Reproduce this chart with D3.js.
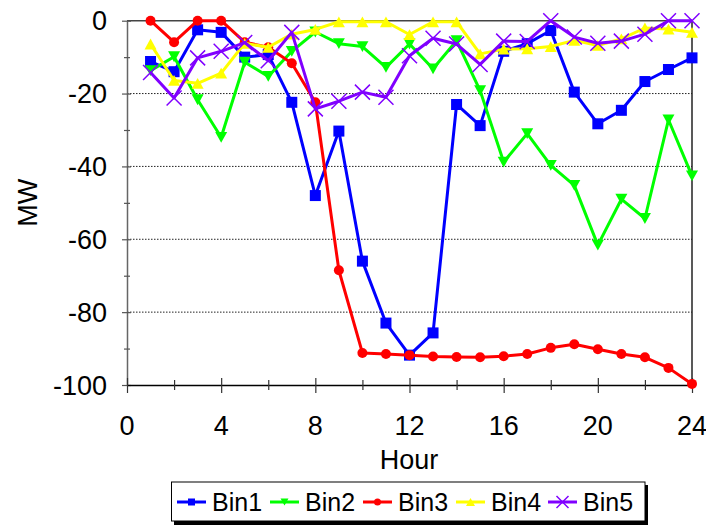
<!DOCTYPE html>
<html>
<head>
<meta charset="utf-8">
<script src="https://cdn.jsdelivr.net/npm/d3@7"></script>
<style>
  html, body { margin: 0; padding: 0; background: #fff; }
  svg { display: block; font-family: "Liberation Sans", Arial, sans-serif; }
</style>
</head>
<body>
<svg id="chart" width="706" height="527"></svg>
<script>
const hours = [1,2,3,4,5,6,7,8,9,10,11,12,13,14,15,16,17,18,19,20,21,22,23,24];
const bin1 = [-11.2,-14,-2.5,-3.2,-10,-9.3,-22.4,-48,-30.3,-66,-83,-91.8,-85.7,-23,-28.8,-8.4,-6.3,-2.7,-19.6,-28.3,-24.6,-16.7,-13.4,-10.2];
const bin2 = [-13.7,-9.9,-21.7,-32,-11.4,-15.3,-8.4,-3.1,-6.3,-7.1,-12.8,-6.4,-13.2,-5.5,-19.2,-38.8,-31,-39.7,-45.2,-61.6,-49,-54.3,-27.2,-42.6];
const bin3 = [0,-5.9,0,0,-5.9,-7.3,-11.7,-22.4,-68.5,-91.2,-91.5,-91.8,-92.2,-92.3,-92.4,-92.1,-91.5,-89.8,-88.8,-90.2,-91.5,-92.4,-95.3,-99.7];
const bin4 = [-6.4,-16.4,-17.2,-14.4,-6.2,-7.3,-3.7,-2.4,-0.3,-0.3,-0.3,-3.8,-0.3,-0.3,-9.1,-7.8,-7.7,-7.1,-5.4,-6.8,-5,-2,-2.3,-3.2];
const bin5 = [-14.2,-21.2,-10.2,-8.4,-6,-11,-3.2,-24.2,-22.1,-19.6,-21,-9.6,-4.8,-6.4,-12,-5.6,-5.7,0,-4.5,-6.2,-5.6,-3.7,0,0];
const seriesNames = ["Bin1","Bin2","Bin3","Bin4","Bin5"];
const xTicks = [0,4,8,12,16,20,24];
const yTicks = [0,-20,-40,-60,-80,-100];

const seriesData = [bin1,bin2,bin3,bin4,bin5];
const colors = ["#0000ff","#00ff00","#ff0000","#ffff00","#8000ff"];
const markers = ["square","triDown","circle","triUp","cross"];

const svg = d3.select("#chart");
const L = 127, R = 692, T = 20.7, B = 385;
const x = d3.scaleLinear().domain([0,24]).range([L,R]);
const y = d3.scaleLinear().domain([-100,0]).range([B,T]);

// gridlines
svg.append("g").selectAll("line").data([-20,-40,-60,-80]).join("line")
  .attr("x1", L).attr("x2", R).attr("y1", d=>y(d)).attr("y2", d=>y(d))
  .attr("stroke", "#222").attr("stroke-width", 1).attr("stroke-dasharray", "1.5,1.5");

// frame: top and right
svg.append("line").attr("x1", L).attr("x2", R).attr("y1", T).attr("y2", T).attr("stroke", "#444").attr("stroke-width", 1.5);
svg.append("line").attr("x1", R).attr("x2", R).attr("y1", T).attr("y2", B).attr("stroke", "#222").attr("stroke-width", 1.5);

// y axis
const yAxis = d3.axisLeft(y).tickValues(d3.range(-100, 1, 10)).tickSize(0).tickFormat("");
const gy = svg.append("g").attr("transform", `translate(${L},0)`).call(yAxis);
gy.select(".domain").attr("stroke", "#666").attr("stroke-width", 1.5);
gy.selectAll(".tick").append("line")
  .attr("x1", d => d % 20 === 0 ? -5 : -3).attr("x2", d => d % 20 === 0 ? 4 : 3)
  .attr("stroke", "#555").attr("stroke-width", 1.2);
svg.append("g").selectAll("text").data(yTicks).join("text")
  .attr("x", 107).attr("y", d => y(d)).attr("dy", "0.36em")
  .attr("text-anchor", "end").attr("font-size", 27).attr("fill", "#000")
  .text(d => d3.format("d")(d).replace("−","-"));

// x axis
const xAxis = d3.axisBottom(x).tickValues(d3.range(0, 25, 2)).tickSize(0).tickFormat("");
const gx = svg.append("g").attr("transform", `translate(0,${B})`).call(xAxis);
gx.select(".domain").attr("stroke", "#000").attr("stroke-width", 1.5);
gx.selectAll(".tick").append("line")
  .attr("y1", d => d % 4 === 0 ? -7 : -5).attr("y2", d => d % 4 === 0 ? 8 : 5)
  .attr("stroke", "#333").attr("stroke-width", 1.2);
svg.append("g").selectAll("text").data(xTicks).join("text")
  .attr("x", d => x(d)).attr("y", 435)
  .attr("text-anchor", "middle").attr("font-size", 27).attr("fill", "#000")
  .text(d => d);

// axis titles
svg.append("text").attr("x", 409).attr("y", 469).attr("text-anchor", "middle")
  .attr("font-size", 27).text("Hour");
svg.append("text").attr("transform", `translate(37,${(T+B)/2}) rotate(-90)`)
  .attr("text-anchor", "middle").attr("font-size", 27).text("MW");

// marker drawer
function drawMarker(g, type, color, size) {
  const s = size;
  if (type === "square") {
    g.append("rect").attr("x", -s/2).attr("y", -s/2).attr("width", s).attr("height", s).attr("fill", color);
  } else if (type === "circle") {
    g.append("circle").attr("r", s/2).attr("fill", color);
  } else if (type === "triDown") {
    const h = s*0.9;
    g.append("path").attr("d", `M${-s/2},${-h/2}L${s/2},${-h/2}L0,${h/2}Z`).attr("fill", color);
  } else if (type === "triUp") {
    const h = s*0.9;
    g.append("path").attr("d", `M${-s/2},${h/2}L${s/2},${h/2}L0,${-h/2}Z`).attr("fill", color);
  } else if (type === "cross") {
    const a = s/2;
    g.append("path").attr("d", `M${-a},${-a}L${a},${a}M${-a},${a}L${a},${-a}`)
      .attr("stroke", color).attr("stroke-width", 1.5).attr("fill", "none");
  }
}
const markerSizes = [11, 12, 10, 12, 15];

const line = d3.line().x((d,i) => x(hours[i])).y(d => y(d));
seriesData.forEach((vals, si) => {
  const g = svg.append("g");
  g.append("path").datum(vals).attr("d", line)
    .attr("fill", "none").attr("stroke", colors[si]).attr("stroke-width", 3)
    .attr("stroke-linejoin", "round");
  vals.forEach((v, i) => {
    const m = g.append("g").attr("transform", `translate(${x(hours[i])},${y(v)})`);
    drawMarker(m, markers[si], colors[si], markerSizes[si]);
  });
});

// legend
const lg = svg.append("g");
lg.append("rect").attr("x", 174).attr("y", 485).attr("width", 474).attr("height", 40).attr("fill", "#000");
lg.append("rect").attr("x", 171.5).attr("y", 482).attr("width", 473.5).attr("height", 39)
  .attr("fill", "#fff").attr("stroke", "#000").attr("stroke-width", 1);
const legX = [177, 270, 363, 456, 548];
seriesNames.forEach((name, i) => {
  const gi = lg.append("g").attr("transform", `translate(${legX[i]},502)`);
  gi.append("line").attr("x1", 0).attr("x2", 29).attr("y1", 0).attr("y2", 0)
    .attr("stroke", colors[i]).attr("stroke-width", 3);
  const m = gi.append("g").attr("transform", "translate(14.5,0)");
  drawMarker(m, markers[i], colors[i], [7,8,7,9,12][i]);
  gi.append("text").attr("x", 35).attr("y", 0).attr("dy", "0.36em")
    .attr("font-size", 25).attr("fill", "#000").text(name);
});
</script>
</body>
</html>
